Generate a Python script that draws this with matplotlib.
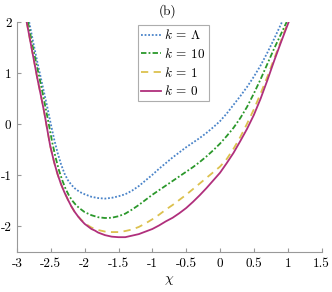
import matplotlib
matplotlib.use("Agg")
import matplotlib.pyplot as plt

plt.rcParams['mathtext.fontset'] = 'cm'
plt.rcParams['font.family'] = ['cmr10', 'DejaVu Serif']
plt.rcParams['axes.formatter.use_mathtext'] = True

# k = Lambda (blue dotted)
x_lam = [-2.82, -2.76, -2.70, -2.65, -2.60, -2.55, -2.50, -2.45, -2.40, -2.35, -2.30,
         -2.25, -2.20, -2.15, -2.10, -2.05, -2.00, -1.90, -1.80, -1.70, -1.60, -1.50, -1.40,
         -1.30, -1.20, -1.10, -1.00, -0.90, -0.80, -0.70, -0.60, -0.50, -0.40, -0.30,
         -0.20, -0.10, 0.00, 0.10, 0.20, 0.30, 0.40, 0.50, 0.60, 0.70, 0.80, 0.916]
y_lam = [2.0, 1.6, 1.22, 0.92, 0.62, 0.32, 0.0, -0.30, -0.56, -0.78, -0.96,
         -1.09, -1.18, -1.25, -1.30, -1.34, -1.37, -1.42, -1.445, -1.455, -1.44, -1.41, -1.37,
         -1.30, -1.21, -1.10, -0.99, -0.87, -0.76, -0.65, -0.55, -0.45, -0.36, -0.27,
         -0.17, -0.06, 0.06, 0.21, 0.38, 0.55, 0.73, 0.93, 1.15, 1.40, 1.67, 2.0]

# k = 10 (green dash-dot)
x_10 = [-2.837, -2.78, -2.72, -2.675, -2.62, -2.57, -2.53, -2.48, -2.43, -2.38, -2.33,
        -2.28, -2.23, -2.18, -2.13, -2.08, -2.00, -1.90, -1.80, -1.70, -1.60, -1.50,
        -1.40, -1.30, -1.20, -1.10, -1.00, -0.90, -0.80, -0.70, -0.60, -0.50, -0.40,
        -0.30, -0.20, -0.10, 0.00, 0.10, 0.20, 0.30, 0.40, 0.50, 0.60, 0.70, 0.80,
        0.90, 0.985]
y_10 = [2.0, 1.6, 1.22, 0.95, 0.6, 0.27, 0.0, -0.35, -0.65, -0.90, -1.10,
        -1.27, -1.40, -1.50, -1.58, -1.64, -1.72, -1.78, -1.82, -1.835, -1.83, -1.80,
        -1.75, -1.67, -1.58, -1.48, -1.38, -1.29, -1.20, -1.11, -1.02, -0.93, -0.84,
        -0.74, -0.63, -0.51, -0.38, -0.23, -0.07, 0.12, 0.34, 0.60, 0.88, 1.18, 1.48,
        1.76, 2.0]

# k = 1 (yellow dashed)
x_1 = [-2.857, -2.80, -2.75, -2.70, -2.65, -2.60, -2.56, -2.51, -2.45, -2.40, -2.35,
       -2.30, -2.25, -2.20, -2.15, -2.10, -2.05, -2.00, -1.95, -1.90, -1.85, -1.80,
       -1.70, -1.60, -1.50, -1.40, -1.30, -1.20, -1.10, -1.00, -0.90, -0.80, -0.70,
       -0.60, -0.50, -0.40, -0.30, -0.20, -0.10, 0.00, 0.10, 0.20, 0.30, 0.40, 0.50,
       0.60, 0.70, 0.80, 0.90, 1.005]
y_1 = [2.0, 1.6, 1.25, 0.9, 0.58, 0.25, -0.05, -0.42, -0.75, -0.98, -1.17,
       -1.33, -1.47, -1.60, -1.71, -1.80, -1.87, -1.93, -1.98, -2.02, -2.05, -2.07,
       -2.10, -2.11, -2.11, -2.09, -2.06, -2.01, -1.94, -1.86, -1.77, -1.67, -1.58,
       -1.48, -1.38, -1.27, -1.16, -1.05, -0.94, -0.83, -0.68, -0.48, -0.25, 0.01, 0.29,
       0.60, 0.93, 1.28, 1.63, 2.0]

# k = 0 (magenta solid)
x_0 = [-2.857, -2.80, -2.75, -2.70, -2.65, -2.60, -2.56, -2.51, -2.45, -2.40, -2.35,
       -2.30, -2.25, -2.20, -2.15, -2.10, -2.05, -2.00, -1.95, -1.90, -1.85, -1.80,
       -1.70, -1.60, -1.50, -1.40, -1.30, -1.20, -1.10, -1.00, -0.90, -0.80, -0.70,
       -0.60, -0.50, -0.40, -0.30, -0.20, -0.10, 0.00, 0.10, 0.20, 0.30, 0.40, 0.50,
       0.60, 0.70, 0.80, 0.90, 1.015]
y_0 = [2.0, 1.6, 1.25, 0.9, 0.58, 0.25, -0.05, -0.42, -0.75, -0.98, -1.17,
       -1.33, -1.47, -1.60, -1.71, -1.80, -1.88, -1.95, -2.00, -2.05, -2.08, -2.12,
       -2.17, -2.20, -2.21, -2.21, -2.18, -2.15, -2.10, -2.05, -1.98, -1.90, -1.83,
       -1.74, -1.64, -1.52, -1.39, -1.25, -1.10, -0.95, -0.76, -0.56, -0.33, -0.09, 0.18,
       0.50, 0.86, 1.24, 1.60, 2.0]

labels = [r'$k \:=\: \Lambda$', r'$k \:=\: 10$', r'$k \:=\: 1$', r'$k \:=\: 0$']
xticks = [-3, -2.5, -2, -1.5, -1, -0.5, 0, 0.5, 1, 1.5]
xticklabels = ['-3', '-2.5', '-2', '-1.5', '-1', '-0.5', '0', '0.5', '1', '1.5']
yticks = [-2, -1, 0, 1, 2]
yticklabels = ['-2', '-1', '0', '1', '2']

fig = plt.figure(figsize=(3.32, 2.92), dpi=100)
ax = fig.add_axes([17/332, 40/292, (321.5-17)/332, (252-22)/292])

lw = 1.3
ax.plot(x_lam, y_lam, linestyle=(0, (1, 1)), color='#4a84c9', lw=lw, label=labels[0])
ax.plot(x_10, y_10, linestyle=(0, (3, 1.2, 1, 1.2)), color='#2b982b', lw=lw, label=labels[1])
ax.plot(x_1, y_1, linestyle=(0, (4, 3)), color='#dcc14e', lw=lw, label=labels[2])
ax.plot(x_0, y_0, linestyle='-', color='#b02f7c', lw=lw, label=labels[3])

ax.set_xlim(-3, 1.5)
ax.set_ylim(-2.5, 2)
ax.set_xticks(xticks, xticklabels)
ax.set_yticks(yticks, yticklabels)
for s in ['top', 'right']:
    ax.spines[s].set_visible(False)
for s in ['left', 'bottom']:
    ax.spines[s].set_color('#999999')
    ax.spines[s].set_linewidth(0.8)
ax.tick_params(direction='in', length=3, width=0.8, color='#999999', labelsize=9.5, pad=4)

ax.set_xlabel(r'$\chi$', fontsize=10, labelpad=3)

leg = ax.legend(loc='upper left', bbox_to_anchor=(138/332, 1-25/292), bbox_transform=fig.transFigure,
                fontsize=9.5, frameon=True, fancybox=False, borderaxespad=0, borderpad=0.25,
                handlelength=1.5, handletextpad=0.2, labelspacing=0.35)
leg.get_frame().set_edgecolor('#999999')
leg.get_frame().set_linewidth(0.8)

fig.text(168/332, 1-11/292, '(b)', ha='center', va='center', fontsize=9.5)

fig.savefig('out.png', dpi=100)
